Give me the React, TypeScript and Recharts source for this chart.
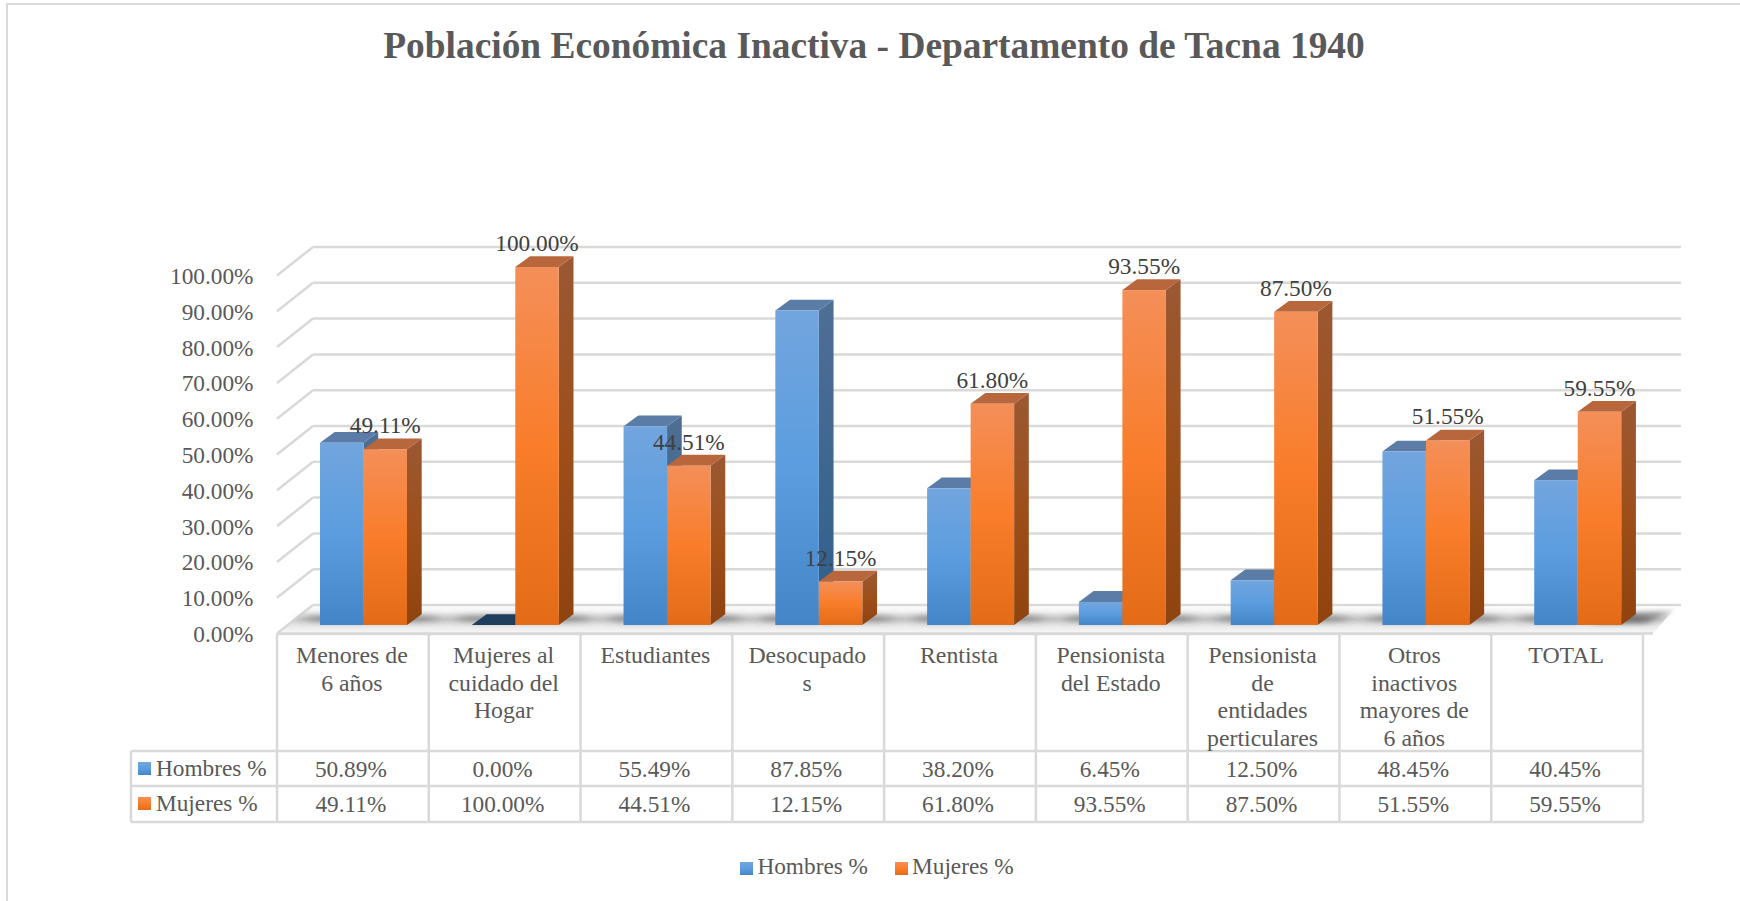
import { BarChart, Bar, XAxis, YAxis, CartesianGrid, Legend, LabelList } from 'recharts';

const categoryLines = [
  ['Menores de', '6 años'],
  ['Mujeres al', 'cuidado del', 'Hogar'],
  ['Estudiantes'],
  ['Desocupado', 's'],
  ['Rentista'],
  ['Pensionista', 'del Estado'],
  ['Pensionista', 'de', 'entidades', 'perticulares'],
  ['Otros', 'inactivos', 'mayores de', '6 años'],
  ['TOTAL'],
];
const hombres = [50.89, 0, 55.49, 87.85, 38.2, 6.45, 12.5, 48.45, 40.45];
const mujeres = [49.11, 100, 44.51, 12.15, 61.8, 93.55, 87.5, 51.55, 59.55];
const yTicks = [0, 10, 20, 30, 40, 50, 60, 70, 80, 90, 100];

const data = categoryLines.map((lines, i) => ({
  name: lines.join(' '),
  hombres: hombres[i],
  mujeres: mujeres[i],
}));

const FONT = '"Liberation Serif", "Times New Roman", serif';
const TEXT = '#595959';
const LINE = '#d9d9d9';
const LINE_W = 2.5;
const pct = (v: number) => `${v.toFixed(2)}%`;

// bar depth of the fake 3D look
const DX = 14.7;
const DY = 10.8;

// table rows (page px)
const COL_W = 151.78;
const ROW_TOP = 634;
const ROW_1 = 751;
const ROW_2 = 786;
const ROW_3 = 822;
const TABLE_LEFT = 131;
const TABLE_FIRST = 277;

const Bar3D = (props: any) => {
  const { x, y, width, height, tone } = props;
  const zero = height < 0.5;
  const lid = zero ? '#1f3d5c' : tone === 'blue' ? '#5a7ca6' : '#b8673c';
  return (
    <g>
      {tone === 'blue' && (
        <rect
          x={x - 14}
          y={y + height - 8.5}
          width={width * 2 + 44}
          height={4}
          fill="#333"
          opacity={0.7}
          filter="url(#soft)"
        />
      )}
      <polygon
        points={`${x + width},${y} ${x + width + DX},${y - DY} ${x + width + DX},${y + height - DY} ${x + width},${y + height}`}
        fill={`url(#${tone}Side)`}
      />
      <polygon
        points={`${x},${y} ${x + DX},${y - DY} ${x + width + DX},${y - DY} ${x + width},${y}`}
        fill={lid}
      />
      {!zero && <rect x={x} y={y} width={width} height={height} fill={`url(#${tone}Front)`} />}
    </g>
  );
};

const GridLine = (props: any) => {
  const { x1, x2, y1, index } = props;
  const fx = x1 - 11;
  const bx = x1 + 25;
  const ex = x2 + 27;
  const fy = y1 + 8.5;
  const by = y1 - 20;
  return (
    <g key={index}>
      {Math.abs(y1 - 625) < 1 && (
        <g>
          <polygon points={`${fx},${fy} ${bx},${by} ${ex - 6},${by + 3} ${x2 - 1},${fy}`} fill="url(#floor)" />
          <polygon
            points={`${x2 - 60},${by + 9} ${ex - 10},${by + 6} ${x2 - 8},${by + 19} ${x2 - 60},${by + 19}`}
            fill="#666"
            opacity={0.5}
            filter="url(#softEnd)"
          />
          <line x1={fx} y1={fy} x2={x2 - 1} y2={fy} stroke={LINE} strokeWidth={LINE_W} />
        </g>
      )}
      <line x1={fx} y1={fy} x2={bx} y2={by} stroke={LINE} strokeWidth={LINE_W} />
      <line x1={bx} y1={by} x2={ex} y2={by} stroke={LINE} strokeWidth={LINE_W} />
    </g>
  );
};

const YTick = (props: any) => (
  <text x={253.5} y={props.y + 17} textAnchor="end" fontFamily={FONT} fontSize={23.3} fill={TEXT}>
    {pct(props.payload.value)}
  </text>
);

const cellText = { fontFamily: FONT, fontSize: 23.3, fill: TEXT };

const TableTick = (props: any) => {
  const i = props.index ?? props.payload.index;
  const col = props.x - 11;
  const left = col - COL_W / 2;
  const right = col + COL_W / 2;
  const row = (label: string, y: number, colour: string) => (
    <g>
      <rect x={138} y={y - 7} width={13} height={13} fill={colour} />
      <text x={156} y={y + 7} {...cellText}>{label}</text>
    </g>
  );
  return (
    <g>
      {i === 0 && (
        <g stroke={LINE} strokeWidth={LINE_W} fill="none">
          <line x1={TABLE_LEFT} y1={ROW_1} x2={TABLE_FIRST} y2={ROW_1} />
          <line x1={TABLE_LEFT} y1={ROW_2} x2={TABLE_FIRST} y2={ROW_2} />
          <line x1={TABLE_LEFT} y1={ROW_3} x2={TABLE_FIRST} y2={ROW_3} />
          <line x1={TABLE_LEFT} y1={ROW_1} x2={TABLE_LEFT} y2={ROW_3} />
          <line x1={TABLE_FIRST} y1={ROW_TOP} x2={TABLE_FIRST} y2={ROW_3} />
        </g>
      )}
      {i === 0 && row('Hombres %', 769, 'url(#blueFront)')}
      {i === 0 && row('Mujeres %', 804, 'url(#orangeFront)')}
      <g stroke={LINE} strokeWidth={LINE_W}>
        <line x1={left} y1={ROW_TOP} x2={right} y2={ROW_TOP} />
        <line x1={left} y1={ROW_1} x2={right} y2={ROW_1} />
        <line x1={left} y1={ROW_2} x2={right} y2={ROW_2} />
        <line x1={left} y1={ROW_3} x2={right} y2={ROW_3} />
        <line x1={right} y1={ROW_TOP} x2={right} y2={ROW_3} />
      </g>
      <text textAnchor="middle" {...cellText} fontSize={23.8}>
        {categoryLines[i].map((l, n) => (
          <tspan key={n} x={col - 1} y={663 + n * 27.5}>{l}</tspan>
        ))}
      </text>
      <text x={col - 2} y={776.5} textAnchor="middle" {...cellText}>{pct(hombres[i])}</text>
      <text x={col - 2} y={812} textAnchor="middle" {...cellText}>{pct(mujeres[i])}</text>
    </g>
  );
};

const legendText = (value: string, entry: any) => (
  <span style={{ color: TEXT, paddingRight: entry.dataKey === 'hombres' ? 17 : 0 }}>{value}</span>
);

const App = () => {
  return (
    <div style={{ position: 'absolute', left: 0, top: 0, width: 1740, height: 901, background: '#fff', overflow: 'hidden' }}>
      <div
        style={{
          position: 'absolute',
          left: 6,
          top: 3,
          right: -4,
          bottom: -4,
          borderLeft: `2px solid ${LINE}`,
          borderTop: `2px solid ${LINE}`,
        }}
      />
      <BarChart
        width={1740}
        height={901}
        data={data}
        barSize={43.5}
        barGap={0}
        margin={{ top: 267, right: 86, bottom: 0, left: 0 }}
        style={{ position: 'absolute', left: 0, top: 0 }}
      >
        <defs>
          <linearGradient id="blueFront" x1="0" y1="0" x2="0" y2="1">
            <stop offset="0%" stopColor="#72a5de" />
            <stop offset="50%" stopColor="#5b9ddf" />
            <stop offset="100%" stopColor="#4485c7" />
          </linearGradient>
          <linearGradient id="orangeFront" x1="0" y1="0" x2="0" y2="1">
            <stop offset="0%" stopColor="#f48f59" />
            <stop offset="50%" stopColor="#f97d2a" />
            <stop offset="100%" stopColor="#e36b17" />
          </linearGradient>
          <linearGradient id="blueSide" x1="0" y1="0" x2="0" y2="1">
            <stop offset="0%" stopColor="#4f6f94" />
            <stop offset="100%" stopColor="#2e5f8b" />
          </linearGradient>
          <linearGradient id="orangeSide" x1="0" y1="0" x2="0" y2="1">
            <stop offset="0%" stopColor="#9b5833" />
            <stop offset="50%" stopColor="#9d4f1a" />
            <stop offset="100%" stopColor="#8f430e" />
          </linearGradient>
          <linearGradient id="floor" x1="0" y1="0" x2="0" y2="1">
            <stop offset="0%" stopColor="#ffffff" />
            <stop offset="25%" stopColor="#f2f2f2" />
            <stop offset="50%" stopColor="#cfcfcf" />
            <stop offset="72%" stopColor="#e8e8e8" />
            <stop offset="100%" stopColor="#f8f8f8" />
          </linearGradient>
          <filter id="soft" filterUnits="userSpaceOnUse" x="0" y="560" width="1740" height="100">
            <feGaussianBlur stdDeviation="9 3" />
          </filter>
          <filter id="softEnd" filterUnits="userSpaceOnUse" x="0" y="560" width="1740" height="100">
            <feGaussianBlur stdDeviation="4 2" />
          </filter>
        </defs>
        <text
          x={874}
          y={58}
          textAnchor="middle"
          fontFamily={FONT}
          fontWeight="bold"
          fontSize={37.4}
          fill={TEXT}
        >
          Población Económica Inactiva - Departamento de Tacna 1940
        </text>
        <CartesianGrid vertical={false} horizontal={GridLine} />
        <XAxis
          dataKey="name"
          height={276}
          axisLine={false}
          tickLine={false}
          interval={0}
          tick={TableTick}
        />
        <YAxis
          width={288}
          domain={[0, 100]}
          ticks={yTicks}
          axisLine={false}
          tickLine={false}
          tick={YTick}
        />
        <Legend
          verticalAlign="middle"
          iconType="square"
          iconSize={13}
          formatter={legendText}
          wrapperStyle={{ position: 'absolute', left: 722, top: 851, width: 320, fontFamily: FONT, fontSize: 23.3, lineHeight: '30px', textAlign: 'left' }}
        />
        <Bar
          dataKey="hombres"
          name="Hombres %"
          fill="url(#blueFront)"
          isAnimationActive={false}
          shape={(p: any) => <Bar3D {...p} tone="blue" />}
        />
        <Bar
          dataKey="mujeres"
          name="Mujeres %"
          fill="url(#orangeFront)"
          isAnimationActive={false}
          shape={(p: any) => <Bar3D {...p} tone="orange" />}
        >
          <LabelList
            dataKey="mujeres"
            position="top"
            offset={16}
            formatter={(v: any) => pct(v)}
            fontFamily={FONT}
            fontSize={23.3}
            fill="#404040"
          />
        </Bar>
      </BarChart>
    </div>
  );
};

export default App;
